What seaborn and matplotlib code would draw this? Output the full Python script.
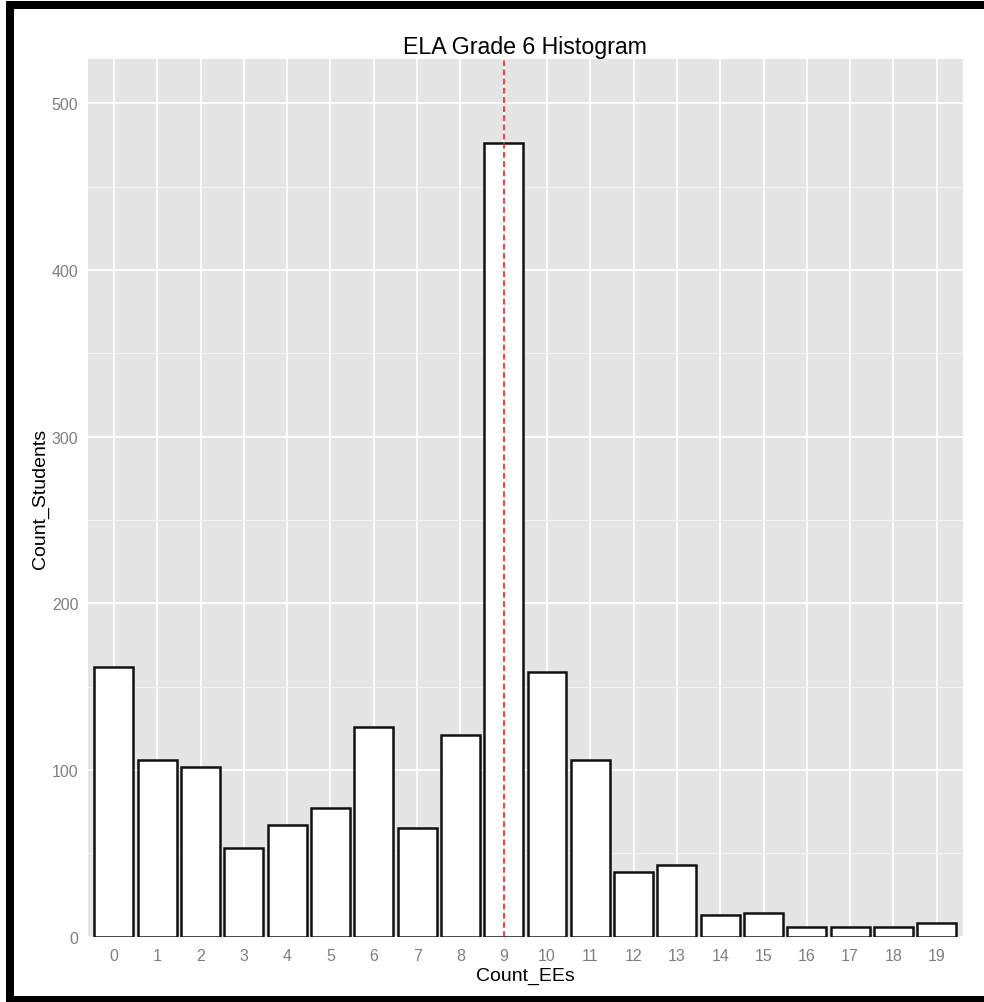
import matplotlib
matplotlib.use("Agg")
import matplotlib.pyplot as plt
from matplotlib.patches import Rectangle
import seaborn as sns
import pandas as pd

# values
count_ees = list(range(20))
count_students = [162, 106, 102, 53, 67, 77, 126, 65, 121, 476,
                  159, 106, 39, 43, 13, 14, 6, 6, 6, 8]
marker_ees = 9
y_major = [0, 100, 200, 300, 400, 500]
y_minor = [50, 150, 250, 350, 450]

W, H = 984, 1003

sns.set_theme(style="darkgrid", rc={"axes.facecolor": "#E5E5E5",
                                    "grid.color": "white"})
plt.rcParams['font.family'] = ['Liberation Sans', 'DejaVu Sans']

fig = plt.figure(figsize=(W / 100, H / 100), dpi=100)
fig.patch.set_facecolor("white")

# panel position in pixels
left, right, top, bottom = 88, 962.7, 60, 937.7
ax = fig.add_axes([left / W, 1 - bottom / H, (right - left) / W, (bottom - top) / H])

df = pd.DataFrame({"Count_EEs": count_ees, "Count_Students": count_students})
sns.barplot(data=df, x="Count_EEs", y="Count_Students", color="white",
            saturation=1, edgecolor="#111111", linewidth=1.8, width=0.9, ax=ax)

ax.axvline(marker_ees, color="#FF1A1A", linestyle=(0, (3.5, 2.0)), linewidth=1.2, zorder=5)

ax.set_xlim(-0.6, 19.6)
ax.set_ylim(0, 526.5)
ax.set_yticks(y_major)
ax.set_yticks(y_minor, minor=True)

ax.set_axisbelow(True)
ax.xaxis.grid(True, which="major", color="white", linewidth=1.3)
ax.yaxis.grid(True, which="major", color="white", linewidth=1.3)
ax.yaxis.grid(True, which="minor", color="#F2F2F2", linewidth=0.8)
for s in ax.spines.values():
    s.set_visible(False)

ax.tick_params(which="major", length=4, width=0.9, color="#7F7F7F",
               labelcolor="#7F7F7F", labelsize=11.5, pad=3)
ax.tick_params(axis="x", which="major", pad=4)
ax.tick_params(which="minor", length=0)

ax.set_xlabel("Count_EEs", fontsize=14, color="black")
ax.set_ylabel("Count_Students", fontsize=14, color="black")
ax.xaxis.set_label_coords(0.5, -0.034)
ax.yaxis.set_label_coords(-0.045, 0.5)
ax.set_title("ELA Grade 6 Histogram", fontsize=16.7, color="black", pad=4)

# black frame around the image (left, top, bottom)
def px_rect(x0, y0, x1, y1):
    fig.add_artist(Rectangle((x0 / W, 1 - y1 / H), (x1 - x0) / W, (y1 - y0) / H,
                             transform=fig.transFigure, color="black", lw=0))

px_rect(6, 2, 14, 1003)
px_rect(6, 2, 984, 10)
px_rect(6, 997, 984, 1003)

fig.savefig("out.png", dpi=100)
